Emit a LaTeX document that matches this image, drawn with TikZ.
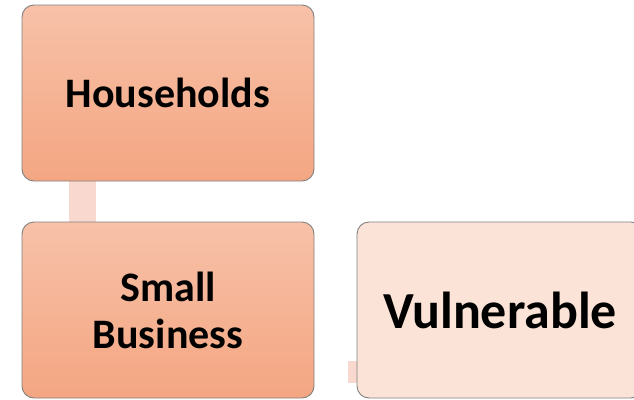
\documentclass[tikz,border=0pt]{standalone}
\usepackage{fontspec}
\setmainfont{Carlito}
\usetikzlibrary{positioning,backgrounds}
\definecolor{peachtop}{RGB}{247,193,168}
\definecolor{peachbot}{RGB}{244,166,130}
\definecolor{peachlight}{RGB}{251,228,215}
\definecolor{linkpink}{RGB}{249,217,207}
\definecolor{rimgray}{RGB}{128,128,128}

\begin{document}
\begin{tikzpicture}[x=1pt,y=-1pt,box/.style={shape=rectangle,rounded corners=12pt,draw=rimgray,line width=0.9pt,minimum width=292pt,minimum height=176pt,inner sep=0pt,align=center,font=\fontsize{42}{47}\selectfont\bfseries,top color=peachtop,bottom color=peachbot},boxV/.style={box,minimum width=286pt,fill=peachlight,top color=peachlight,bottom color=peachlight,font=\fontsize{52}{58}\selectfont\bfseries},link/.style={draw=linkpink,line width=27pt}]
\useasboundingbox (0,0) rectangle (634,399);

\node[box] (hh) at (168,93) {Households};
\node[box] (sb) at (168,310) {Small\\Business};
\node[boxV] (vu) at (500,310) {Vulnerable};

\coordinate (vstub) at (348,372);

\begin{pgfonlayer}{background}
\draw[link] ([xshift=60.5pt]hh.south west) -- ([xshift=60.5pt]sb.north west);
\draw[link,line width=22pt] (vstub) -- (vstub -| vu.west);
\end{pgfonlayer}

\end{tikzpicture}
\end{document}
